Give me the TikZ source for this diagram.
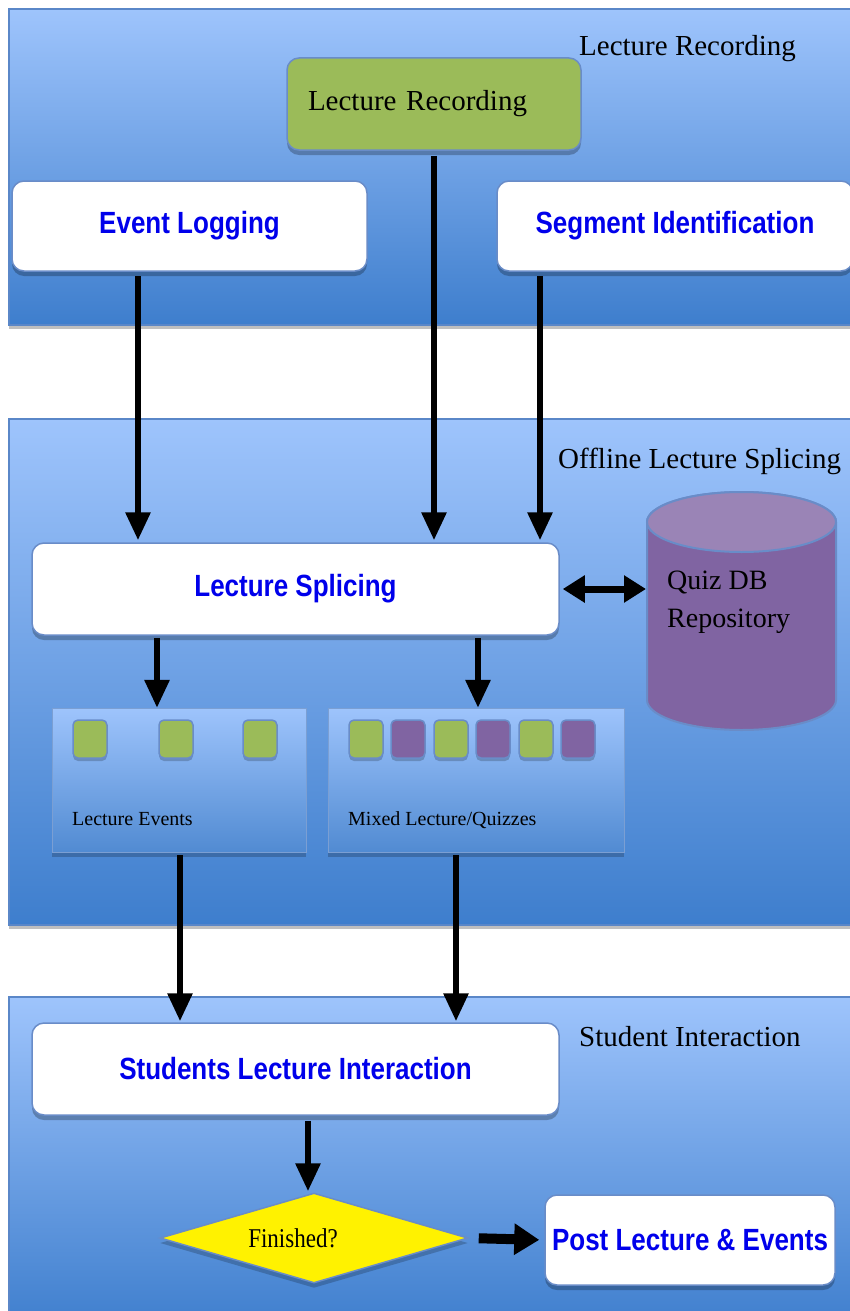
\documentclass[tikz,border=0pt]{standalone}
\usepackage{fontspec}
\usepackage{graphicx}
\setmainfont{Liberation Serif}
\newfontfamily\lblfont{Liberation Sans}
\newcommand{\tallbox}[1]{\scalebox{1}[1.18]{#1}}
\usetikzlibrary{shapes.geometric,arrows.meta,shadows}
\definecolor{paneltop}{RGB}{158,196,252}
\definecolor{panelbot}{RGB}{62,126,205}
\definecolor{panelline}{RGB}{90,135,200}
\definecolor{lblblue}{RGB}{0,0,235}
\definecolor{recgreen}{RGB}{155,187,89}
\definecolor{quizpurple}{RGB}{128,100,162}
\definecolor{quiztop}{RGB}{154,132,182}
\definecolor{boxline}{RGB}{105,140,200}
\begin{document}
\begin{tikzpicture}[x=1pt,y=-1pt,
  panel/.style={top color=paneltop,bottom color=panelbot,draw=panelline,line width=1.5pt,
    drop shadow={shadow xshift=0pt,shadow yshift=-4pt,opacity=0.25,fill=black}},
  subpanel/.style={top color=paneltop,bottom color=panelbot!90!white,draw=panelline!80!white,line width=1pt,
    drop shadow={shadow xshift=0pt,shadow yshift=-5pt,opacity=0.2,fill=black}},
  wbox/.style={rectangle,rounded corners=12pt,fill=white,draw=boxline,line width=1.5pt,
    inner sep=2pt,font=\lblfont\bfseries\fontsize{26}{30}\selectfont,text=lblblue,
    drop shadow={shadow xshift=0pt,shadow yshift=-5pt,opacity=0.25,fill=black}},
  title/.style={anchor=base west,inner sep=0pt,font=\fontsize{29}{34}\selectfont},
  small/.style={anchor=base west,inner sep=0pt,font=\fontsize{20}{24}\selectfont},
  sq/.style={rectangle,rounded corners=5pt,minimum width=34pt,minimum height=38pt,inner sep=0pt,
    draw=boxline,line width=1.5pt,drop shadow={shadow xshift=0pt,shadow yshift=-3pt,opacity=0.2,fill=black}},
  arr/.style={line width=6pt,-{Triangle[length=28pt,width=24pt]}},
  darr/.style={line width=7pt,{Triangle[length=22pt,width=26pt]}-{Triangle[length=22pt,width=26pt]}},
  harr/.style={line width=10pt,-{Triangle[length=25pt,width=30pt]}}
]
\useasboundingbox (0,0) rectangle (850,1311);
\clip (0,0) rectangle (850,1311);
\fill[white] (0,0) rectangle (850,1311);

% panels
\path[panel] (9,9) rectangle (880,325);
\path[panel] (9,419) rectangle (880,925);
\path[panel] (9,997) rectangle (880,1330);

\node[title] (t1) at (579,56) {Lecture Recording};
\node[title] (t2) at (558,468) {Offline Lecture Splicing};
\node[title] (t3) at (579,1046) {Student Interaction};

% top stage
\node[wbox,fill=recgreen,text=black,font=\fontsize{29}{34}\selectfont,
  minimum height=92pt,text width=252pt,inner xsep=21pt,align=left] (rec) at (434,104) {Lecture Recording};
\node[wbox,minimum width=355pt,minimum height=90pt] (evlog) at (189.5,226) {\tallbox{Event Logging}};
\node[wbox,minimum width=356pt,minimum height=90pt] (segid) at (675,226) {\tallbox{Segment Identification}};

% splicing stage
\node[wbox,minimum width=527pt,minimum height=92pt] (splice) at (295.5,589) {\tallbox{Lecture Splicing}};

% quiz DB cylinder
\path[fill=quizpurple,draw=boxline,line width=2pt]
  (647,522) -- (647,700) arc[start angle=180,end angle=360,x radius=94.5pt,y radius=30pt]
  -- (836,522) arc[start angle=0,end angle=180,x radius=94.5pt,y radius=30pt] -- cycle;
\path[fill=quiztop,draw=boxline,line width=2pt] (741.5,522) ellipse[x radius=94.5pt,y radius=30pt];
\node[anchor=west,align=left,inner sep=0pt,font=\fontsize{28}{38}\selectfont] (db) at (667,602) {Quiz DB\\Repository};
\coordinate (dbw) at (647,589);

% sub panels
\path[subpanel] (52,708) rectangle (306,852);
\path[subpanel] (328,708) rectangle (624,852);
\node[inner sep=0pt,minimum width=254pt,minimum height=144pt] (evts) at (179,780) {};
\node[inner sep=0pt,minimum width=296pt,minimum height=144pt] (mixed) at (476,780) {};
\foreach \x [count=\i] in {90,176,260}
  \node[sq,fill=recgreen] (e\i) at (\x,739) {};
\foreach \x/\c [count=\i] in {366/recgreen,408/quizpurple,451/recgreen,493/quizpurple,536/recgreen,578/quizpurple}
  \node[sq,fill=\c] (m\i) at (\x,739) {};
\node[small] (evlbl) at (72,825) {Lecture Events};
\node[small] (mxlbl) at (348,825) {Mixed Lecture/Quizzes};

% interaction stage
\node[wbox,minimum width=527pt,minimum height=92pt] (sli) at (295.5,1069) {\tallbox{Students Lecture Interaction}};
\node[diamond,aspect=3.4,minimum width=308pt,minimum height=90pt,inner sep=0pt,fill=yellow,
  draw=boxline,line width=1.5pt,font=\fontsize{23}{26}\selectfont,
  drop shadow={shadow xshift=0pt,shadow yshift=-5pt,opacity=0.2,fill=black}] (fin) at (314,1238) {\hspace*{-42pt}\tallbox{Finished?}};
\node[wbox,minimum width=290pt,minimum height=90pt] (post) at (690,1240) {\tallbox{Post Lecture \& Events}};

% connectors
\coordinate (cA) at (138,0);
\coordinate (cB) at (434,0);
\coordinate (cC) at (540,0);
\coordinate (cD) at (157,0);
\coordinate (cE) at (478,0);
\coordinate (cF) at (180,0);
\coordinate (cG) at (456,0);
\coordinate (cH) at (308,0);

\draw[arr,shorten <=4pt,shorten >=2pt] (cA |- evlog.south) -- (cA |- splice.north);
\draw[arr,shorten <=5pt,shorten >=2pt] (cB |- rec.south) -- (cB |- splice.north);
\draw[arr,shorten <=4pt,shorten >=2pt] (cC |- segid.south) -- (cC |- splice.north);
\draw[darr,shorten <=3pt,shorten >=1pt] (splice.east) -- (dbw);
\draw[arr,shorten <=2pt] (cD |- splice.south) -- (cD |- evts.north);
\draw[arr,shorten <=2pt] (cE |- splice.south) -- (cE |- mixed.north);
\draw[arr,shorten <=3pt,shorten >=1pt] (cF |- evts.south) -- (cF |- sli.north);
\draw[arr,shorten <=3pt,shorten >=1pt] (cG |- mixed.south) -- (cG |- sli.north);
\draw[arr,shorten <=5pt,shorten >=1pt] (cH |- sli.south) -- (cH |- fin.north);
\draw[harr,shorten <=10pt,shorten >=5pt] (fin.east) -- (post.west);
\end{tikzpicture}
\end{document}
